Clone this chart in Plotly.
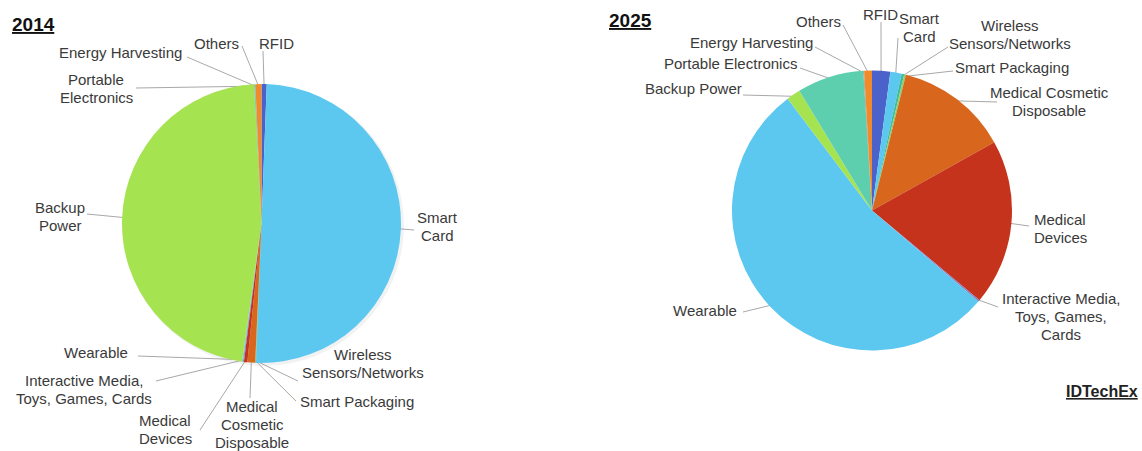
import math
import plotly.graph_objects as go

W, H = 1142, 451

# Segments, listed clockwise from 12 o'clock
segments = ["RFID", "Smart Card", "Wireless Sensors/Networks", "Smart Packaging",
            "Medical Cosmetic Disposable", "Medical Devices",
            "Interactive Media, Toys, Games, Cards", "Wearable", "Backup Power",
            "Portable Electronics", "Energy Harvesting", "Others"]

# Market share (%) per segment
share_2014 = [0.6, 50.2, 0.05, 0.05, 0.9, 0.4, 0.1, 0.1, 47.1, 0.1, 0.05, 0.7]
share_2025 = [2.1, 1.3, 0.3, 0.2, 13.0, 19.2, 0.2, 53.5, 1.6, 7.7, 0.1, 0.9]

colors = ["#4a62c9", "#5cc8f0", "#3dbb9c", "#8fd06a", "#d8661c", "#c5331c",
          "#8a7fc4", "#5cc8f0", "#a6e351", "#5dcfae", "#9a9a9a", "#f08a2a"]

# Label text for each segment in each chart (line breaks as drawn)
labels_2014 = ["RFID", "Smart\nCard", "Wireless\nSensors/Networks", "Smart Packaging",
               "Medical\nCosmetic\nDisposable", "Medical\nDevices",
               "Interactive Media,\nToys, Games, Cards", "Wearable", "Backup\nPower",
               "Portable\nElectronics", "Energy Harvesting", "Others"]
labels_2025 = ["RFID", "Smart\nCard", "Wireless\nSensors/Networks", "Smart Packaging",
               "Medical Cosmetic\nDisposable", "Medical\nDevices",
               "Interactive Media,\nToys, Games,\nCards", "Wearable", "Backup Power",
               "Portable Electronics", "Energy Harvesting", "Others"]

# Pie geometry in pixels: centre x, centre y, radius
pie_2014 = (261.5, 223.5, 139.5)
pie_2025 = (872.0, 210.5, 140.0)

# Label placement (pixels): text block centre and where its leader line leaves the text
text_pos_2014 = [(276, 43), (437, 226), (363, 363), (357, 401), (252, 424), (165, 429),
                 (84, 389), (96, 352), (60, 216), (96, 88), (120, 52), (216, 43)]
line_from_2014 = [(263, 51), (414, 230), (298, 381), (296, 401), (250, 398), (200, 430),
                  (156, 381), (138, 356), (87, 214), (136, 88), (187, 57), (242, 46)]
text_pos_2025 = [(880, 14), (919, 27), (1010, 34), (1012, 67), (1049, 101), (1060, 228),
                 (1061, 316), (705, 310), (693, 88), (730, 63), (751, 42), (818, 21)]
line_from_2025 = [(881, 22), (898, 38), (948, 47), (953, 71), (997, 102), (1029, 226),
                  (998, 307), (743, 312), (743, 95), (800, 68), (815, 47), (843, 25)]

LINE_H = 18
TEXT_COLOR = "#3a3a3a"
LEAD_COLOR = "#a8a8a8"

fig = go.Figure()


def pie_domain(cx, cy, r):
    return dict(x=[(cx - r) / W, (cx + r) / W], y=[1 - (cy + r) / H, 1 - (cy - r) / H])


def mid_points(values, cx, cy, r):
    total = sum(values)
    pts, acc = [], 0.0
    for v in values:
        a = math.radians((acc + v / 2) / total * 360)
        pts.append((cx + r * math.sin(a), cy - r * math.cos(a)))
        acc += v
    return pts


# Leader lines in a hidden pixel-space axis
for values, pie, starts in [(share_2014, pie_2014, line_from_2014),
                            (share_2025, pie_2025, line_from_2025)]:
    ends = mid_points(values, pie[0], pie[1], pie[2] - 2)
    xs, ys = [], []
    for (sx, sy), (ex, ey) in zip(starts, ends):
        xs += [sx, ex, None]
        ys += [sy, ey, None]
    fig.add_trace(go.Scatter(x=xs, y=ys, mode="lines", hoverinfo="skip",
                             line=dict(color=LEAD_COLOR, width=1), showlegend=False))

# Soft shadow behind the 2014 pie
cx, cy, r = pie_2014
fig.add_shape(type="circle", xref="x", yref="y", layer="below",
              x0=cx - r + 1, x1=cx + r + 3, y0=cy - r + 1, y1=cy + r + 3,
              fillcolor="rgba(0,0,0,0.05)", line=dict(width=0))

for values, pie in [(share_2014, pie_2014), (share_2025, pie_2025)]:
    fig.add_trace(go.Pie(labels=segments, values=values, sort=False,
                         direction="clockwise", rotation=0,
                         marker=dict(colors=colors, line=dict(width=0)),
                         textinfo="none", hoverinfo="label+percent",
                         domain=pie_domain(*pie), showlegend=False))

# Category labels, one annotation per text line
annotations = []
for labels, positions in [(labels_2014, text_pos_2014), (labels_2025, text_pos_2025)]:
    for text, (tx, ty) in zip(labels, positions):
        lines = text.split("\n")
        y0 = ty - (len(lines) - 1) * LINE_H / 2
        for i, ln in enumerate(lines):
            annotations.append(dict(x=tx, y=y0 + i * LINE_H, xref="x", yref="y", text=ln,
                                    showarrow=False, xanchor="center", yanchor="middle",
                                    font=dict(family="Liberation Sans, Arial", size=15,
                                              color=TEXT_COLOR)))

annotations += [
    dict(x=10, y=24, xref="x", yref="y", text="<b><u>2014</u></b>", showarrow=False,
         xanchor="left", yanchor="middle",
         font=dict(family="Liberation Sans, Arial", size=19, color="#111111")),
    dict(x=607, y=20, xref="x", yref="y", text="<b><u>2025</u></b>", showarrow=False,
         xanchor="left", yanchor="middle",
         font=dict(family="Liberation Sans, Arial", size=19, color="#111111")),
    dict(x=1140, y=391, xref="x", yref="y", text="<b><u>IDTechEx</u></b>", showarrow=False,
         xanchor="right", yanchor="middle",
         font=dict(family="Liberation Sans, Arial", size=16, color="#222222")),
]

fig.update_layout(
    width=W, height=H, margin=dict(l=0, r=0, t=0, b=0),
    paper_bgcolor="white", plot_bgcolor="white",
    xaxis=dict(range=[0, W], visible=False, fixedrange=True, domain=[0, 1]),
    yaxis=dict(range=[H, 0], visible=False, fixedrange=True, domain=[0, 1]),
    annotations=annotations,
)

fig.write_html("out.html")
